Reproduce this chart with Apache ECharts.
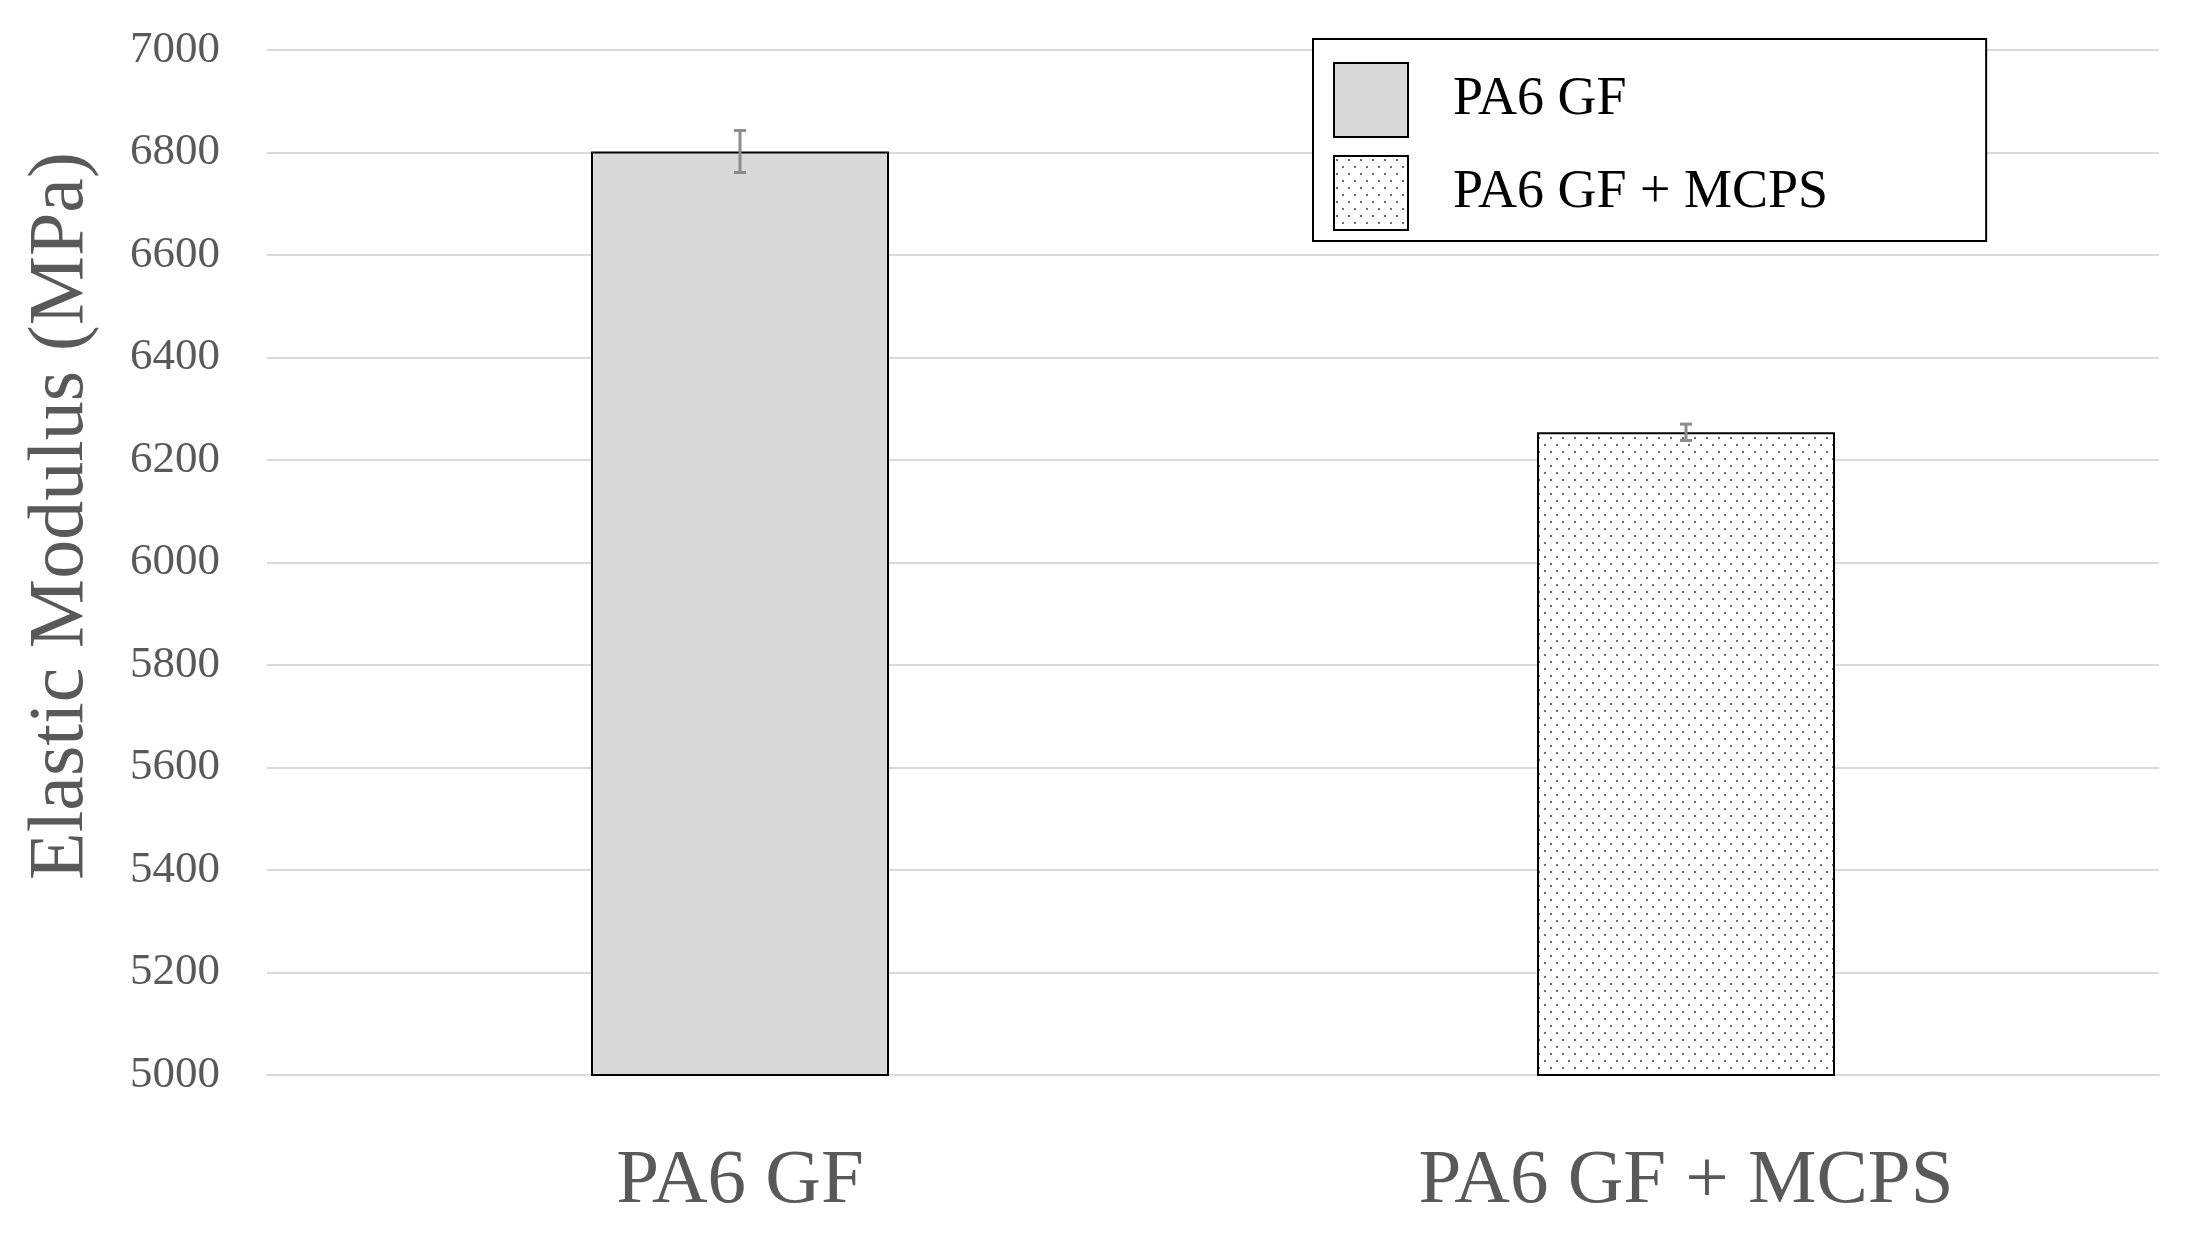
<!DOCTYPE html>
<html>
<head>
<meta charset="utf-8">
<script src="https://cdn.jsdelivr.net/npm/echarts@6/dist/echarts.min.js"></script>
<style>
  html, body { margin: 0; padding: 0; background: #fff; }
  #chart { width: 2193px; height: 1240px; }
</style>
</head>
<body>
<div id="chart"></div>
<script>
const categories = ["PA6 GF", "PA6 GF + MCPS"];
const seriesNames = ["PA6 GF", "PA6 GF + MCPS"];
const modulus = [6802, 6254];
const errors = [41, 16];

const font = "'Liberation Serif', 'DejaVu Serif', serif";
const textColor = "#595959";

// dotted fill like the Excel 5% pattern
function dotPattern() {
    const c = document.createElement("canvas");
    c.width = 12;
    c.height = 14;
    const ctx = c.getContext("2d");
    ctx.fillStyle = "#ffffff";
    ctx.fillRect(0, 0, 12, 14);
    ctx.fillStyle = "#6a6a6a";
    ctx.fillRect(2, 3, 2, 2);
    ctx.fillRect(8, 10, 2, 2);
    return c;
}

const chart = echarts.init(document.getElementById("chart"));

const option = {
    animation: false,
    backgroundColor: "#ffffff",
    textStyle: { fontFamily: font },
    grid: { left: 267, right: 34, top: 50, bottom: 165 },
    legend: {
        data: seriesNames,
        orient: "vertical",
        left: 1313,
        top: 39,
        icon: "rect",
        itemWidth: 74,
        itemHeight: 74,
        itemGap: 17,
        padding: [23, 158, 10, 20],
        backgroundColor: "#ffffff",
        borderColor: "#000000",
        borderWidth: 2,
        borderRadius: 0,
        textStyle: {
            fontFamily: font,
            fontSize: 54,
            color: "#000000",
            padding: [0, 0, 0, 40],
        },
    },
    xAxis: {
        type: "category",
        data: categories,
        axisLine: { lineStyle: { color: "#d9d9d9", width: 2 } },
        axisTick: { show: false },
        axisLabel: {
            fontFamily: font,
            fontSize: 77,
            color: textColor,
            margin: 68,
        },
    },
    yAxis: {
        type: "value",
        min: 5000,
        max: 7000,
        interval: 200,
        axisLine: { show: false },
        axisTick: { show: false },
        splitLine: { lineStyle: { color: "#d9d9d9", width: 2 } },
        axisLabel: {
            fontFamily: font,
            fontSize: 45,
            color: textColor,
            margin: 47,
            formatter: (v) => String(v),
        },
    },
    graphic: [
        {
            type: "text",
            x: 62,
            y: 516,
            rotation: Math.PI / 2,
            style: {
                text: "Elastic Modulus (MPa)",
                font: "78px " + font,
                fill: textColor,
                align: "center",
                verticalAlign: "middle",
            },
        },
    ],
    series: [
        {
            name: seriesNames[0],
            type: "bar",
            barWidth: 298,
            barGap: "-100%",
            data: [modulus[0], "-"],
            itemStyle: { color: "#d9d9d9", borderColor: "#000000", borderWidth: 2 },
        },
        {
            name: seriesNames[1],
            type: "bar",
            barWidth: 298,
            barGap: "-100%",
            data: ["-", modulus[1]],
            itemStyle: {
                color: { image: dotPattern(), repeat: "repeat" },
                borderColor: "#000000",
                borderWidth: 2,
            },
        },
        {
            type: "custom",
            name: "err",
            z: 10,
            data: categories.map((c, i) => [i, modulus[i] - errors[i], modulus[i] + errors[i]]),
            renderItem: (params, api) => {
                const lo = api.coord([api.value(0), api.value(1)]);
                const hi = api.coord([api.value(0), api.value(2)]);
                const w = 6;
                const style = { stroke: "#8c8c8c", lineWidth: 3 };
                return {
                    type: "group",
                    children: [
                        { type: "line", shape: { x1: lo[0], y1: lo[1], x2: hi[0], y2: hi[1] }, style },
                        { type: "line", shape: { x1: lo[0] - w, y1: lo[1], x2: lo[0] + w, y2: lo[1] }, style },
                        { type: "line", shape: { x1: hi[0] - w, y1: hi[1], x2: hi[0] + w, y2: hi[1] }, style },
                    ],
                };
            },
        },
    ],
};

chart.setOption(option);
</script>
</body>
</html>
